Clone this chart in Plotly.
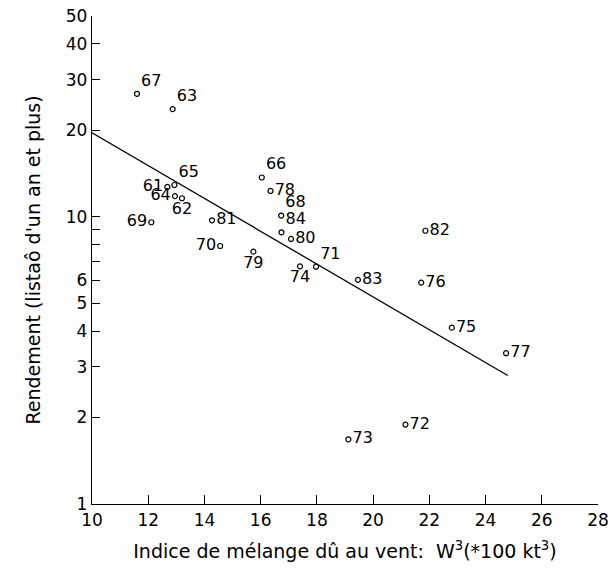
import plotly.graph_objects as go

# Wind mixing index (W^3, *100 kt^3) and yield for each year
annees = ["67", "63", "65", "61", "64", "62", "69", "81", "70", "66", "78", "68",
          "84", "80", "79", "74", "71", "83", "82", "76", "75", "77", "72", "73"]
indice_vent = [11.6, 12.87, 12.93, 12.68, 12.95, 13.2, 12.11, 14.27, 14.56, 16.04, 16.35, 16.73,
               16.74, 17.08, 15.74, 17.4, 17.97, 19.46, 21.86, 21.71, 22.8, 24.73, 21.15, 19.12]
rendement = [26.8, 23.7, 12.9, 12.7, 11.8, 11.6, 9.57, 9.72, 7.91, 13.7, 12.3, 10.1,
             8.83, 8.37, 7.56, 6.72, 6.7, 6.03, 8.94, 5.9, 4.11, 3.35, 1.89, 1.68]

# Fitted regression line (log yield vs wind index)
droite_x = [10.0, 24.79]
droite_y = [19.6, 2.8]

x_ticks = [10, 12, 14, 16, 18, 20, 22, 24, 26, 28]
y_ticks = [1, 2, 3, 4, 5, 6, 7, 8, 9, 10, 20, 30, 40, 50]
y_ticktext = ["1", "2", "3", "4", "5", "6", "", "", "", "10", "20", "30", "40", "50"]

# where each year label sits relative to its point
label_pos = {
    "67": "top right", "63": "top right", "65": "top right", "61": "middle left",
    "64": "middle left", "62": "bottom center", "69": "middle left", "81": "middle right",
    "70": "middle left", "66": "top right", "78": "middle right", "68": "top right",
    "84": "top right", "80": "middle right", "79": "bottom center", "74": "bottom center",
    "71": "top right", "83": "middle right", "82": "middle right", "76": "middle right",
    "75": "middle right", "77": "middle right", "72": "middle right", "73": "middle right",
}

FONT = "DejaVu Sans"

fig = go.Figure()
fig.add_trace(go.Scatter(
    x=droite_x, y=droite_y, mode="lines",
    line=dict(color="black", width=1.3), hoverinfo="skip", showlegend=False,
))
fig.add_trace(go.Scatter(
    x=indice_vent, y=rendement, mode="markers+text",
    text=annees, textposition=[label_pos[a] for a in annees],
    textfont=dict(family=FONT, size=16, color="black"),
    marker=dict(symbol="circle-open", size=5, color="black", line=dict(width=1.2)),
    showlegend=False,
))

fig.update_layout(
    width=613, height=576,
    margin=dict(l=92, r=15, t=16, b=72),
    paper_bgcolor="white", plot_bgcolor="white",
    font=dict(family=FONT, size=17, color="black"),
)
fig.update_xaxes(
    range=[10, 28], tickvals=x_ticks, ticktext=[str(v) for v in x_ticks],
    ticks="inside", ticklen=9, tickwidth=1.2, tickcolor="black",
    showline=True, linecolor="black", linewidth=1.3,
    showgrid=False, zeroline=False,
    tickfont=dict(family=FONT, size=17),
    title=dict(text="Indice de mélange dû au vent:  W<sup>3</sup>(*100 kt<sup>3</sup>)",
               font=dict(family=FONT, size=19), standoff=16),
)
fig.update_yaxes(
    type="log", range=[0, 1.69897], tickvals=y_ticks, ticktext=y_ticktext,
    ticks="inside", ticklen=8, tickwidth=1.2, tickcolor="black",
    showline=True, linecolor="black", linewidth=1.3,
    showgrid=False, zeroline=False,
    tickfont=dict(family=FONT, size=17),
    title=dict(text="Rendement (listaô d'un an et plus)",
               font=dict(family=FONT, size=19), standoff=20),
)

fig.update_layout(margin=dict(l=92, r=15, t=16, b=72, autoexpand=False))

fig.write_html("out.html")
